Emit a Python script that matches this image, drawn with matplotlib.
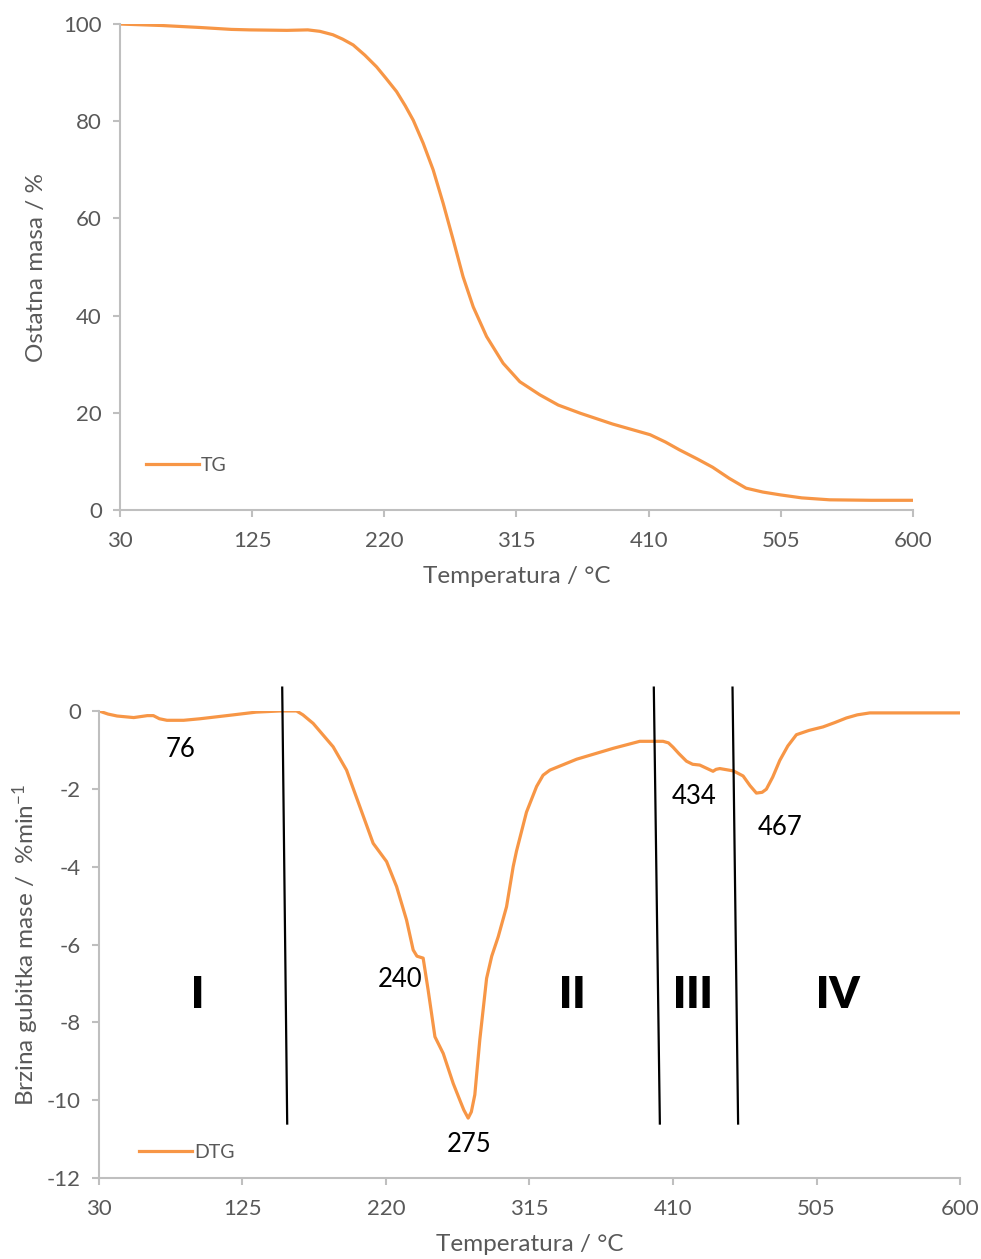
import matplotlib
matplotlib.use("Agg")
import matplotlib.pyplot as plt
import numpy as np

plt.rcParams['font.family'] = ['Lato', 'DejaVu Sans']
plt.rcParams['mathtext.fontset'] = 'custom'
plt.rcParams['mathtext.rm'] = 'Lato'
plt.rcParams['mathtext.it'] = 'Lato:italic'
plt.rcParams['axes.unicode_minus'] = False

# TG curve
tg_temp = [30, 60, 87, 110, 123, 150, 165, 173.7, 183, 190, 197.6, 206, 214.4, 221, 228.8,
           235, 240.8, 247.9, 255.1, 262.3, 269.5, 276.6, 283.9, 293.5, 305.4, 317.4,
           331.8, 345, 361, 384, 411, 422, 432, 445, 456, 468, 480, 492, 505, 520, 540,
           570, 600]
tg_mass = [100, 99.7, 99.3, 98.9, 98.8, 98.7, 98.8, 98.5, 97.8, 96.9, 95.7, 93.6, 91.2, 88.9,
           86.1, 83.2, 80.2, 75.5, 70, 63.1, 55.6, 48, 41.8, 35.7, 30.2, 26.4, 23.7, 21.6,
           19.9, 17.7, 15.5, 14, 12.4, 10.5, 8.8, 6.5, 4.5, 3.7, 3.1, 2.5, 2.1, 2.0, 2.0]

# DTG curve
dtg_temp = [30, 36, 42, 53, 62, 66, 70, 75, 86, 97, 119, 134, 150, 160.8, 165, 171.8, 185,
            193.9, 202.7, 211.5, 220.4, 227, 233.6, 238, 240.5, 244.6, 247.9, 252.4, 257.9,
            264.5, 268.9, 271.5, 274.4, 276.5, 278.8, 282.1, 286.6, 290, 294.3, 299.8,
            304.2, 306.4, 313, 319.7, 324, 328.5, 346.2, 370.4, 388, 403.4, 407, 410, 414,
            418.9, 423, 427.7, 436.5, 438.5, 441, 450, 456.4, 461, 465.2, 469, 471.8, 476,
            480.7, 486, 491.7, 500, 509.3, 517, 524.8, 532, 540.3, 569, 600]
dtg_rate = [0, -0.08, -0.13, -0.17, -0.12, -0.12, -0.2, -0.24, -0.24, -0.2, -0.1, -0.03, 0,
            0, -0.1, -0.32, -0.92, -1.52, -2.46, -3.4, -3.87, -4.51, -5.37, -6.14, -6.3,
            -6.35, -7.17, -8.37, -8.8, -9.57, -10.0, -10.25, -10.46, -10.3, -9.86, -8.45,
            -6.87, -6.3, -5.8, -5.03, -4.0, -3.6, -2.6, -1.94, -1.65, -1.52, -1.24, -0.96,
            -0.78, -0.78, -0.82, -0.93, -1.1, -1.29, -1.37, -1.39, -1.55, -1.5, -1.48,
            -1.54, -1.67, -1.92, -2.11, -2.09, -2.01, -1.7, -1.27, -0.9, -0.61, -0.5,
            -0.41, -0.3, -0.18, -0.1, -0.05, -0.05, -0.05]

# region boundaries (x top, x bottom)
bound_x_top = [151.3, 397.3, 449.4]
bound_x_bot = [154.6, 401.3, 453.1]
bound_y_top = 0.6
bound_y_bot = -10.6

peak_labels = ['76', '240', '275', '434', '467']
peak_x = [84, 229, 275, 424, 481]
peak_y = [-1.0, -6.9, -11.15, -2.2, -3.0]

region_labels = ['I', 'II', 'III', 'IV']
region_x = [95.5, 343, 423, 519]
region_y = [-7.3, -7.3, -7.3, -7.3]

xticks = [30, 125, 220, 315, 410, 505, 600]

orange = '#F79646'
grey_txt = '#595959'
grey_ax = '#BFBFBF'

fig = plt.figure(figsize=(9.81, 12.59), dpi=100)
ax1 = fig.add_axes([0.1223, 0.5949, 0.8084, 0.3860])
ax2 = fig.add_axes([0.1009, 0.0643, 0.8777, 0.3710])


def style(ax):
    for s in ['top', 'right']:
        ax.spines[s].set_visible(False)
    for s in ['left', 'bottom']:
        ax.spines[s].set_color(grey_ax)
        ax.spines[s].set_linewidth(1.5)
    ax.tick_params(colors=grey_ax, labelcolor=grey_txt, labelsize=16, width=1.5, length=5)
    ax.tick_params(axis='x', pad=10)
    ax.tick_params(axis='y', pad=8)
    ax.set_xticks(xticks)
    ax.set_xlim(30, 600)


ax1.plot(tg_temp, tg_mass, color=orange, lw=2.3, label='TG', solid_joinstyle='round')
style(ax1)
ax1.set_ylim(0, 100)
ax1.set_yticks([0, 20, 40, 60, 80, 100])
ax1.set_xlabel('Temperatura / °C', fontsize=17.5, color=grey_txt, labelpad=11)
ax1.set_ylabel('Ostatna masa / %', fontsize=17.5, color=grey_txt, labelpad=12)
ax1.legend(loc='lower left', bbox_to_anchor=(0.02, 0.054), frameon=False, fontsize=14,
           handlelength=2.75, handletextpad=0.1, borderpad=0, labelcolor=grey_txt)

ax2.plot(dtg_temp, dtg_rate, color=orange, lw=2.3, label='DTG', solid_joinstyle='round')
style(ax2)
ax2.set_ylim(-12, 0)
ax2.set_yticks([-12, -10, -8, -6, -4, -2, 0])
ax2.set_xlabel('Temperatura / °C', fontsize=17.5, color=grey_txt, labelpad=11)
ax2.set_ylabel(r'Brzina gubitka mase /  %min$^{-1}$', fontsize=17.5, color=grey_txt, labelpad=4)
ax2.legend(loc='lower left', bbox_to_anchor=(0.035, 0.016), frameon=False, fontsize=14,
           handlelength=2.75, handletextpad=0.1, borderpad=0, labelcolor=grey_txt)

for xt, xb in zip(bound_x_top, bound_x_bot):
    ax2.plot([xt, xb], [bound_y_top, bound_y_bot], color='black', lw=1.6, clip_on=False)

for t, x, y in zip(peak_labels, peak_x, peak_y):
    ax2.text(x, y, t, fontsize=18.5, ha='center', va='center', color='black')

for t, x, y in zip(region_labels, region_x, region_y):
    ax2.text(x, y, t, fontsize=31, fontweight='heavy', ha='center', va='center', color='black')

fig.savefig('out.png', dpi=100)
